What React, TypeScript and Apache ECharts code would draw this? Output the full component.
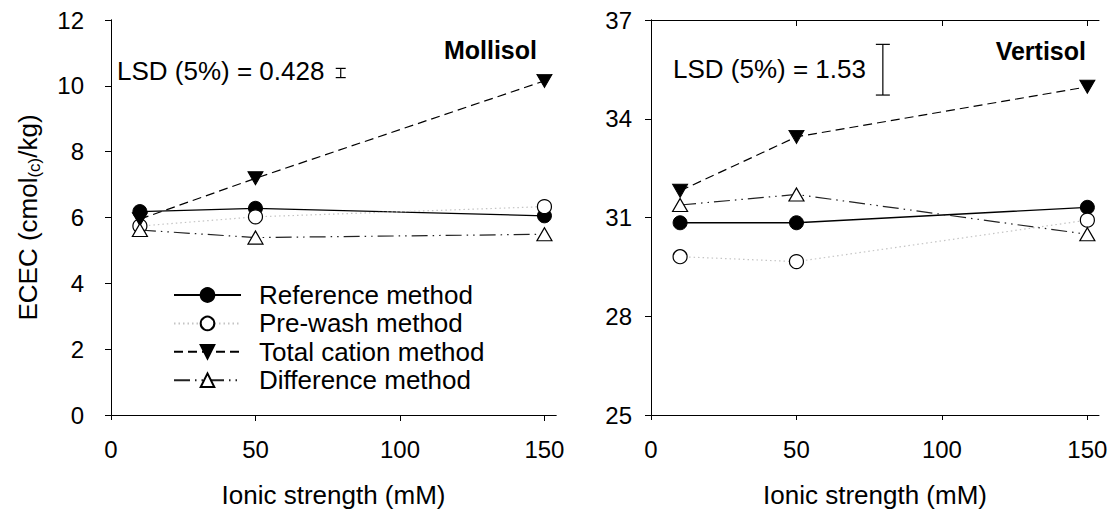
import React, { useEffect, useRef } from "react";
import * as echarts from "echarts";

// ---- data ----
const ionicStrength = [10, 50, 150];
const xTicks = [0, 50, 100, 150];

const mollisolReference = [6.18, 6.28, 6.05];
const mollisolPrewash = [5.74, 6.02, 6.33];
const mollisolTotalCation = [5.95, 7.19, 10.15];
const mollisolDifference = [5.62, 5.39, 5.49];

const vertisolReference = [30.84, 30.84, 31.31];
const vertisolPrewash = [29.81, 29.66, 30.92];
const vertisolTotalCation = [31.81, 33.45, 34.97];
const vertisolDifference = [31.38, 31.7, 30.49];

const mollisolYTicks = [0, 2, 4, 6, 8, 10, 12];
const vertisolYTicks = [25, 28, 31, 34, 37];

// LSD bars: [x, low, high]
const mollisolLsdBar = [79.5, 10.25, 10.53];
const vertisolLsdBar = [79.7, 34.72, 36.26];

const methodNames = [
  "Reference method",
  "Pre-wash method",
  "Total cation method",
  "Difference method",
];

const FONT = "'Liberation Sans', Arial, Helvetica, sans-serif";

function pairs(xs: number[], ys: number[]) {
  return xs.map((x, i) => [x, ys[i]]);
}

function methodSeries(gridIdx: number, values: number[][]) {
  const xi = gridIdx * 2;
  const yi = gridIdx * 2;
  const base = { type: "line", xAxisIndex: xi, yAxisIndex: yi, symbolSize: 14 };
  return [
    {
      ...base,
      name: methodNames[0],
      data: pairs(ionicStrength, values[0]),
      symbol: "circle",
      lineStyle: { color: "#000", width: 1.3, type: "solid" },
      itemStyle: { color: "#000", borderColor: "#000", borderWidth: 1 },
      z: 3,
    },
    {
      ...base,
      name: methodNames[1],
      data: pairs(ionicStrength, values[1]),
      symbol: "circle",
      lineStyle: { color: "#c4c4c4", width: 1.2, type: [1.5, 3] },
      itemStyle: { color: "#fff", borderColor: "#000", borderWidth: 1.2 },
      z: 4,
    },
    {
      ...base,
      name: methodNames[2],
      data: pairs(ionicStrength, values[2]),
      symbol: "triangle",
      symbolRotate: 180,
      symbolSize: [15, 13],
      lineStyle: { color: "#000", width: 1.2, type: [9, 5] },
      itemStyle: { color: "#000", borderColor: "#000", borderWidth: 1 },
      z: 5,
    },
    {
      ...base,
      name: methodNames[3],
      data: pairs(ionicStrength, values[3]),
      symbol: "triangle",
      symbolSize: [15, 13],
      lineStyle: { color: "#222", width: 1.2, type: [16, 5, 1.5, 5, 1.5, 5] },
      itemStyle: { color: "#fff", borderColor: "#000", borderWidth: 1.2 },
      z: 6,
    },
  ];
}

function lsdSeries(gridIdx: number, bar: number[], capWidth: number) {
  return {
    type: "custom",
    xAxisIndex: gridIdx * 2,
    yAxisIndex: gridIdx * 2,
    data: [bar],
    encode: { x: 0, y: [1, 2] },
    silent: true,
    renderItem: (_params: any, api: any) => {
      const x = api.value(0);
      const lo = api.coord([x, api.value(1)]);
      const hi = api.coord([x, api.value(2)]);
      const w = capWidth / 2;
      const st = { stroke: "#000", lineWidth: 1.2 };
      return {
        type: "group",
        children: [
          { type: "line", shape: { x1: lo[0], y1: lo[1], x2: hi[0], y2: hi[1] }, style: st },
          { type: "line", shape: { x1: lo[0] - w, y1: lo[1], x2: lo[0] + w, y2: lo[1] }, style: st },
          { type: "line", shape: { x1: hi[0] - w, y1: hi[1], x2: hi[0] + w, y2: hi[1] }, style: st },
        ],
      };
    },
  };
}

function xAxes(gridIndex: number) {
  const common = {
    type: "value",
    gridIndex,
    min: 0,
    max: 154,
    splitLine: { show: false },
    axisLine: { show: true, lineStyle: { color: "#000", width: 1 } },
  };
  return [
    {
      ...common,
      position: "bottom",
      axisTick: { show: true, inside: false, length: 5, customValues: xTicks, lineStyle: { color: "#000" } },
      axisLabel: {
        show: true,
        customValues: xTicks,
        fontSize: 24,
        color: "#000",
        fontFamily: FONT,
        margin: 22,
      },
      name: "Ionic strength (mM)",
      nameLocation: "middle",
      nameGap: 67,
      nameTextStyle: { fontSize: 26, color: "#000", fontFamily: FONT },
    },
    {
      ...common,
      position: "top",
      axisTick: { show: true, inside: true, length: 6, customValues: [50, 100, 150], lineStyle: { color: "#000" } },
      axisLabel: { show: false },
    },
  ];
}

function yAxes(gridIndex: number, min: number, max: number, ticks: number[], margin: number, withName: boolean) {
  const common = {
    type: "value",
    gridIndex,
    min,
    max,
    splitLine: { show: false },
    axisLine: { show: true, lineStyle: { color: "#000", width: 1 } },
  };
  const left: any = {
    ...common,
    position: "left",
    axisTick: { show: true, inside: false, length: 4, customValues: ticks, lineStyle: { color: "#000" } },
    axisLabel: {
      show: true,
      customValues: ticks,
      fontSize: 24,
      color: "#000",
      fontFamily: FONT,
      margin,
    },
  };
  if (withName) {
    left.name = "{a|ECEC (cmol}{s|(c)}{a|/kg)}";
    left.nameLocation = "middle";
    left.nameRotate = 90;
    left.nameGap = 68;
    left.nameTextStyle = {
      fontSize: 26,
      color: "#000",
      fontFamily: FONT,
      rich: {
        a: { fontSize: 26, lineHeight: 28, verticalAlign: "top", color: "#000", fontFamily: FONT },
        s: { fontSize: 17, lineHeight: 28, verticalAlign: "bottom", color: "#000", fontFamily: FONT },
      },
    };
  }
  return [
    left,
    {
      ...common,
      position: "right",
      axisTick: { show: true, inside: true, length: 6, customValues: ticks, lineStyle: { color: "#000" } },
      axisLabel: { show: false },
    },
  ];
}

export default function App() {
  const ref = useRef<HTMLDivElement>(null);
  useEffect(() => {
    if (!ref.current) return;
    const chart = echarts.init(ref.current, null, { renderer: "svg" });
    const option: any = {
      animation: false,
      backgroundColor: "#fff",
      textStyle: { fontFamily: FONT },
      grid: [
        { left: 111, top: 20, width: 445, height: 395 },
        { left: 651, top: 20, width: 448, height: 395 },
      ],
      xAxis: [...xAxes(0), ...xAxes(1)],
      yAxis: [
        ...yAxes(0, 0, 12, mollisolYTicks, 27, true),
        ...yAxes(1, 25, 37, vertisolYTicks, 19, false),
      ],
      legend: {
        orient: "vertical",
        left: 173,
        top: 281,
        padding: 0,
        itemWidth: 67,
        itemHeight: 17,
        itemGap: 0.4,
        selectedMode: false,
        data: methodNames,
        textStyle: {
          fontSize: 26,
          color: "#000",
          fontFamily: FONT,
          lineHeight: 28,
          padding: [0, 0, 0, 13],
        },
      },
      graphic: [
        {
          type: "text",
          x: 117,
          y: 71,
          style: { text: "LSD (5%) = 0.428", fontSize: 26, fontFamily: FONT, fill: "#000", align: "left", verticalAlign: "middle" },
        },
        {
          type: "text",
          x: 673,
          y: 69,
          style: { text: "LSD (5%) = 1.53", fontSize: 26, fontFamily: FONT, fill: "#000", align: "left", verticalAlign: "middle" },
        },
        {
          type: "text",
          x: 537,
          y: 50,
          style: { text: "Mollisol", fontSize: 25, fontWeight: "bold", fontFamily: FONT, fill: "#000", align: "right", verticalAlign: "middle" },
        },
        {
          type: "text",
          x: 1086,
          y: 51,
          style: { text: "Vertisol", fontSize: 25, fontWeight: "bold", fontFamily: FONT, fill: "#000", align: "right", verticalAlign: "middle" },
        },
      ],
      series: [
        ...methodSeries(0, [mollisolReference, mollisolPrewash, mollisolTotalCation, mollisolDifference]),
        ...methodSeries(1, [vertisolReference, vertisolPrewash, vertisolTotalCation, vertisolDifference]),
        lsdSeries(0, mollisolLsdBar, 10),
        lsdSeries(1, vertisolLsdBar, 14),
      ],
    };
    chart.setOption(option);
    return () => chart.dispose();
  }, []);
  return (
    <div
      ref={ref}
      style={{ position: "absolute", left: 0, top: 0, width: 1113, height: 514, background: "#fff" }}
    />
  );
}
